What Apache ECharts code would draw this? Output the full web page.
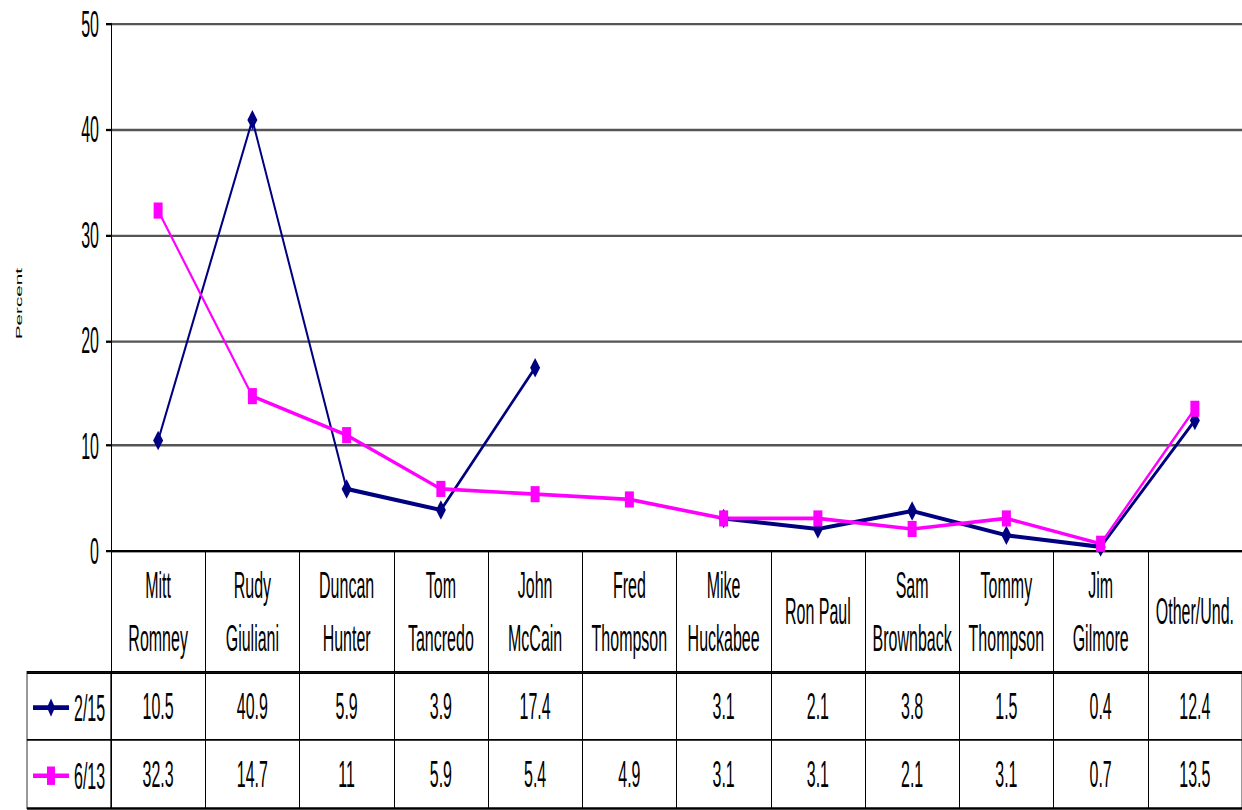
<!DOCTYPE html>
<html><head><meta charset="utf-8">
<script src="https://cdn.jsdelivr.net/npm/echarts@6/dist/echarts.min.js"></script>
<style>
html,body{margin:0;padding:0;background:#fff;overflow:hidden;width:1242px;height:810px;}
#main{width:1242px;height:352px;transform:scaleY(2.30114);transform-origin:0 0;}
</style></head><body><div id="main"></div>
<script>
const categories = ['Mitt\nRomney','Rudy\nGiuliani','Duncan\nHunter','Tom\nTancredo','John\nMcCain','Fred\nThompson','Mike\nHuckabee','Ron Paul','Sam\nBrownback','Tommy\nThompson','Jim\nGilmore','Other/Und.'];
const seriesNames = ['2/15','6/13'];
const feb15 = [10.5,40.9,5.9,3.9,17.4,null,3.1,2.1,3.8,1.5,0.4,12.4];
const jun13 = [32.3,14.7,11,5.9,5.4,4.9,3.1,3.1,2.1,3.1,0.7,13.5];
const yMin = 0, yMax = 50, yStep = 10;
const yTitle = 'Percent';

const FONT = 'Liberation Sans, Arial, sans-serif';
function cells(vals,row){
  const out=[];
  vals.forEach((v,i)=>{ if(v!==null && v!==undefined) out.push([i,row,v]); });
  return out;
}
const chart = echarts.init(document.getElementById('main'), null, {renderer:'svg'});
const tableLabel = {show:true, position:'inside', formatter:p=>String(p.value[2]), color:'#000', opacity:1, fontSize:16, fontFamily:FONT};
chart.setOption({
  animation:false,
  backgroundColor:'#fff',
  textStyle:{fontFamily:FONT},
  legend:{
    data:seriesNames, orient:'vertical', left:27, top:294.5, padding:5,
    itemWidth:36, itemHeight:10, itemGap:13.6,
    textStyle:{fontSize:16, color:'#000', lineHeight:16, fontFamily:FONT},
    selectedMode:false
  },
  grid:[
    {left:111, right:0, top:10.4, height:229.1, outerBoundsMode:'none', containLabel:false},
    {left:111, right:0, top:292, height:59.2, show:true, borderColor:'#000', borderWidth:0.8, outerBoundsMode:'none'},
    {left:27, width:84, top:292, height:59.2, show:true, borderColor:'#000', borderWidth:0.8, outerBoundsMode:'none'}
  ],
  xAxis:[
    {type:'category', gridIndex:0, data:categories, boundaryGap:true,
     axisLine:{show:true, lineStyle:{color:'#000', width:1}},
     axisTick:{show:true, interval:0, length:52.5, lineStyle:{color:'#000', width:1}},
     axisLabel:{interval:0, margin:26.2, verticalAlign:'middle', lineHeight:23, fontSize:16, color:'#000', fontFamily:FONT},
     splitLine:{show:false}},
    {type:'category', gridIndex:1, data:categories, boundaryGap:true,
     axisLine:{show:false}, axisTick:{show:false}, axisLabel:{show:false},
     splitLine:{show:true, interval:0, lineStyle:{color:'#000', width:1}}},
    {type:'value', gridIndex:2, min:0, max:1, show:false}
  ],
  yAxis:[
    {type:'value', gridIndex:0, min:yMin, max:yMax, interval:yStep,
     axisLine:{show:true, lineStyle:{color:'#000', width:1}},
     axisTick:{show:true, length:5, lineStyle:{color:'#000', width:1}},
     axisLabel:{margin:12, fontSize:16, color:'#000', fontFamily:FONT},
     splitLine:{show:true, lineStyle:{color:'#555', width:1}},
     name:yTitle, nameLocation:'middle', nameGap:88, nameRotate:90,
     nameTextStyle:{fontSize:9, color:'#000', fontFamily:FONT, padding:[0,14,0,0]}},
    {type:'category', gridIndex:1, data:seriesNames, inverse:true,
     axisLine:{show:false}, axisTick:{show:false}, axisLabel:{show:false},
     splitLine:{show:true, interval:0, lineStyle:{color:'#000', width:0.8}}},
    {type:'category', gridIndex:2, data:seriesNames, inverse:true,
     axisLine:{show:false}, axisTick:{show:false}, axisLabel:{show:false},
     splitLine:{show:true, interval:0, lineStyle:{color:'#000', width:0.8}}}
  ],
  series:[
    {name:seriesNames[0], type:'line', xAxisIndex:0, yAxisIndex:0, data:feb15, connectNulls:false,
     symbol:'diamond', symbolSize:[10,8.5], color:'#000080',
     lineStyle:{color:'#000080', width:1.8}, itemStyle:{color:'#000080'}},
    {name:seriesNames[1], type:'line', xAxisIndex:0, yAxisIndex:0, data:jun13,
     symbol:'rect', symbolSize:[9,7], color:'#FF00FF',
     lineStyle:{color:'#FF00FF', width:1.6}, itemStyle:{color:'#FF00FF'}},
    {name:'table '+seriesNames[0], type:'scatter', xAxisIndex:1, yAxisIndex:1, data:cells(feb15,0),
     symbolSize:1, itemStyle:{color:'rgba(0,0,0,0)'}, label:tableLabel, silent:true},
    {name:'table '+seriesNames[1], type:'scatter', xAxisIndex:1, yAxisIndex:1, data:cells(jun13,1),
     symbolSize:1, itemStyle:{color:'rgba(0,0,0,0)'}, label:tableLabel, silent:true}
  ]
});
</script></body></html>
